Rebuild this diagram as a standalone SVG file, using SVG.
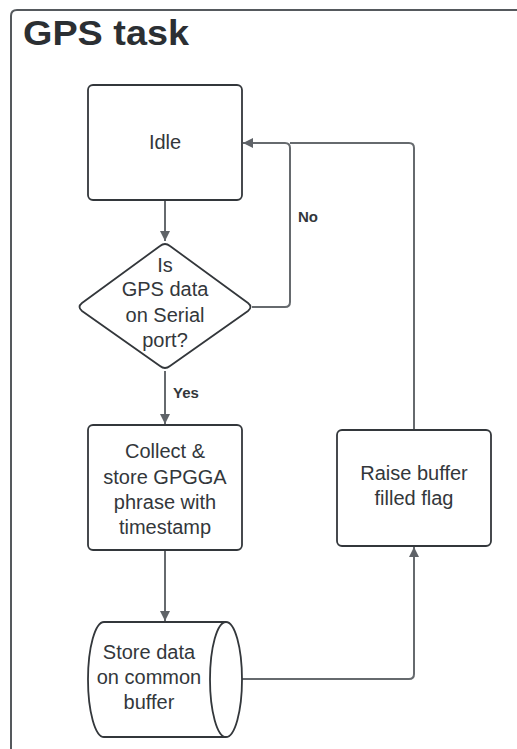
<svg xmlns="http://www.w3.org/2000/svg" width="517" height="749" viewBox="0 0 517 749">
<defs>
<marker id="arr" viewBox="0 0 10 10" refX="10" refY="5" markerWidth="10" markerHeight="10" markerUnits="userSpaceOnUse" orient="auto">
<path d="M0,0 L10,5 L0,10 Z" fill="#5f6368"/>
</marker>
<style>
.node{fill:#fff;stroke:#33373b;stroke-width:1.8}
.t{font-family:"Liberation Sans",Arial,sans-serif;font-size:20px;fill:#33373b;text-anchor:middle}
.lbl{font-family:"Liberation Sans",Arial,sans-serif;font-size:15px;font-weight:bold;fill:#33373b}
.c{fill:none;stroke:#666a6e;stroke-width:2}
</style>
</defs>
<rect width="517" height="749" fill="#fff"/>
<g id="frame">
<path d="M11,760 L11,16 Q11,10 17,10 L530,10" fill="none" stroke="#55595d" stroke-width="2"/>
<text x="23" y="45" font-family="'Liberation Sans',Arial,sans-serif" font-size="35" font-weight="bold" fill="#2b2f33" textLength="166" lengthAdjust="spacingAndGlyphs">GPS task</text>
</g>
<g id="connectors">
<path class="c" d="M165,200 L165,241" marker-end="url(#arr)"/>
<path class="c" d="M252,307 L285,307 Q290,307 290,302 L290,148 Q290,143 285,143 L243,143" marker-end="url(#arr)"/>
<path class="c" d="M414,430 L414,148 Q414,143 409,143 L290,143"/>
<path class="c" d="M165,371 L165,424" marker-end="url(#arr)"/>
<path class="c" d="M165,550 L165,621" marker-end="url(#arr)"/>
<path class="c" d="M242,679 L409,679 Q414,679 414,674 L414,547" marker-end="url(#arr)"/>
<text class="lbl" x="298" y="222">No</text>
<text class="lbl" x="173" y="398">Yes</text>
</g>
<g id="idle">
<rect class="node" x="88" y="85" width="154" height="115" rx="5"/>
<text class="t" x="165" y="149">Idle</text>
</g>
<g id="decision">
<path class="node" d="M160,246 Q165,242 170,246 L248,303 Q253,307 248,311 L170,366 Q165,370 160,366 L82,311 Q77,307 82,303 Z"/>
<text class="t" x="165" y="272">Is</text>
<text class="t" x="165" y="296">GPS data</text>
<text class="t" x="165" y="322">on Serial</text>
<text class="t" x="165" y="347">port?</text>
</g>
<g id="collect">
<rect class="node" x="88" y="425" width="154" height="125" rx="5"/>
<text class="t" x="165" y="458">Collect &amp;</text>
<text class="t" x="165" y="484">store GPGGA</text>
<text class="t" x="165" y="509">phrase with</text>
<text class="t" x="165" y="534">timestamp</text>
</g>
<g id="store">
<path class="node" d="M226,622 L104,622 A16,57.5 0 0 0 104,737 L226,737"/>
<ellipse class="node" cx="226" cy="679.5" rx="16" ry="57.5"/>
<text class="t" x="149" y="659">Store data</text>
<text class="t" x="149" y="684">on common</text>
<text class="t" x="149" y="709">buffer</text>
</g>
<g id="raise">
<rect class="node" x="337" y="430" width="154" height="116" rx="5"/>
<text class="t" x="414" y="480">Raise buffer</text>
<text class="t" x="414" y="505">filled flag</text>
</g>
</svg>
